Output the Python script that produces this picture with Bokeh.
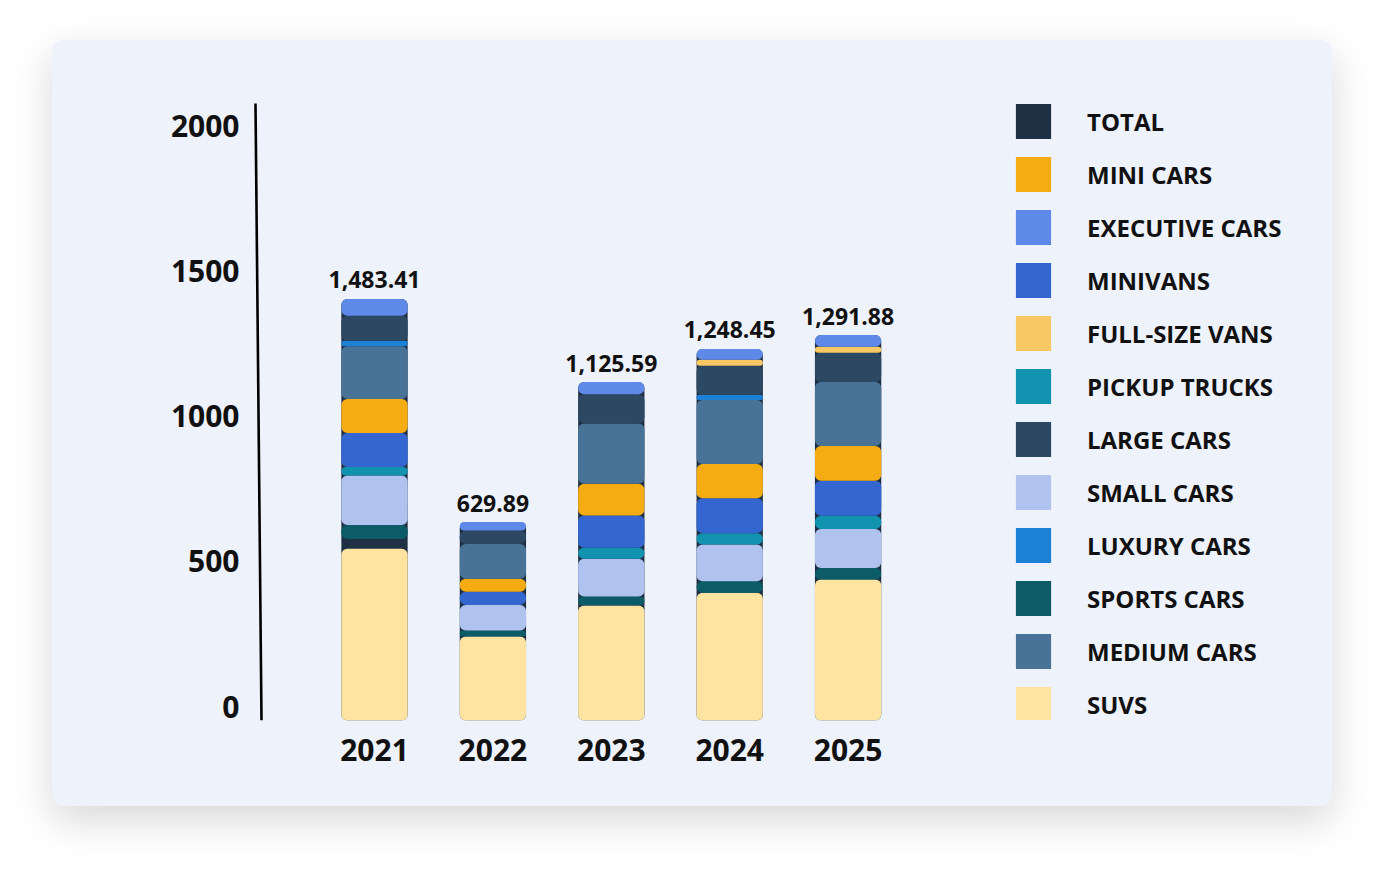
import numpy as np
from bokeh.plotting import figure
from bokeh.models import FixedTicker, Legend, LegendItem, Range1d, LinearAxis
from bokeh.embed import file_html
from bokeh.resources import INLINE
from bokeh.core.properties import value

# ---------------- data ----------------
years = ["2021", "2022", "2023", "2024", "2025"]
totals = [1483.41, 629.89, 1125.59, 1248.45, 1291.88]

suvs = [591, 289, 396, 440, 485]
unlisted = [34, 0, 0, 0, 0]          # dark band in 2021 (total bar shows through)
sports_cars = [48, 21, 31, 39, 40]
small_cars = [170, 88, 130, 127, 134]
pickup_trucks = [30, 0, 38, 39, 46]
minivans = [117, 45, 111, 120, 120]
mini_cars = [117, 45, 109, 118, 120]
medium_cars = [181, 120, 207, 220, 220]
luxury_cars = [19, 0, 0, 18, 0]
large_cars = [86, 46, 101, 100, 101]
full_size_vans = [0, 0, 0, 21, 21]
executive_cars = [58, 29, 42, 37, 40]

y_ticks = [0, 500, 1000, 1500, 2000]

# ---------------- style ----------------
FONT = "Open Sans"
BG = "#EEF2FB"
TXT = "#111111"
colors = {
    "TOTAL": "#1F3045",
    "MINI CARS": "#F4AC12",
    "EXECUTIVE CARS": "#5E89E8",
    "MINIVANS": "#3366D1",
    "FULL-SIZE VANS": "#F8C865",
    "PICKUP TRUCKS": "#1193AF",
    "LARGE CARS": "#2C4863",
    "SMALL CARS": "#AFC3EE",
    "LUXURY CARS": "#1B80D6",
    "SPORTS CARS": "#0B5C66",
    "MEDIUM CARS": "#497396",
    "SUVS": "#FFE3A0",
}
legend_order = ["TOTAL", "MINI CARS", "EXECUTIVE CARS", "MINIVANS", "FULL-SIZE VANS",
                "PICKUP TRUCKS", "LARGE CARS", "SMALL CARS", "LUXURY CARS",
                "SPORTS CARS", "MEDIUM CARS", "SUVS"]

stack = [
    ("SUVS", suvs),
    (None, unlisted),
    ("SPORTS CARS", sports_cars),
    ("SMALL CARS", small_cars),
    ("PICKUP TRUCKS", pickup_trucks),
    ("MINIVANS", minivans),
    ("MINI CARS", mini_cars),
    ("MEDIUM CARS", medium_cars),
    ("LUXURY CARS", luxury_cars),
    ("LARGE CARS", large_cars),
    ("FULL-SIZE VANS", full_size_vans),
    ("EXECUTIVE CARS", executive_cars),
]

# ---------------- geometry ----------------
W, H = 1280, 766
PX_PER_X = 118.4        # px per category step
PX_PER_Y = 0.2905       # px per unit
FRAME_L, FRAME_R, FRAME_T, FRAME_B = 198, 1278, 20, 680   # in figure px
x_start = -(374 - 52 - FRAME_L) / PX_PER_X
x_end = x_start + (FRAME_R - FRAME_L) / PX_PER_X
y_end = (FRAME_B - FRAME_T) / PX_PER_Y
axis_shift = 14 / PX_PER_Y   # the drawn value axis sits slightly above the bar baseline

xs = np.arange(len(years))

p = figure(width=W, height=H, output_backend="svg", toolbar_location=None,
           x_range=Range1d(x_start, x_end), y_range=Range1d(0, y_end),
           y_axis_location=None,
           min_border_left=FRAME_L, min_border_right=W - FRAME_R,
           min_border_top=FRAME_T, min_border_bottom=H - FRAME_B)
p.margin = (40, 0, 0, 52)
p.styles = {"border-radius": "12px", "overflow": "hidden",
            "background-color": BG,
            "box-shadow": "0 14px 40px rgba(0,0,0,0.16)"}
p.background_fill_color = BG
p.border_fill_color = BG
p.outline_line_color = None
p.grid.visible = False

# total bar behind the stack
stack_top = np.zeros(len(years))
for _, vals in stack:
    stack_top = stack_top + np.array(vals, dtype=float)

renderers = {}
renderers["TOTAL"] = p.vbar(x=xs, width=0.56, bottom=0, top=stack_top,
                            fill_color=colors["TOTAL"], line_color=None, border_radius=6)

bottom = np.zeros(len(years))
for name, vals in stack:
    v = np.array(vals, dtype=float)
    if name is None:
        bottom = bottom + v
        continue
    r = p.vbar(x=xs, width=0.56, bottom=bottom, top=bottom + v,
               fill_color=colors[name], line_color=None, border_radius=6)
    renderers[name] = r
    bottom = bottom + v

# total labels
p.text(x=xs, y=stack_top, text=[f"{t:,.2f}" for t in totals],
       text_align="center", text_baseline="middle", y_offset=-19,
       text_font=value(FONT), text_font_style="bold", text_font_size="23px",
       text_color=TXT)

# hand-drawn looking y axis line
p.segment(x0=[x_start + 5 / PX_PER_X], y0=[(FRAME_B - 63) / PX_PER_Y],
          x1=[x_start + 11 / PX_PER_X], y1=[0],
          line_color="#000000", line_width=2.6)

# axes
xa = p.xaxis[0]
xa.ticker = FixedTicker(ticks=list(xs))
xa.major_label_overrides = {int(i): y for i, y in zip(xs, years)}
xa.axis_line_color = None
xa.major_tick_line_color = None
xa.minor_tick_line_color = None
xa.major_tick_out = 0
xa.major_tick_in = 0
xa.major_label_standoff = 18
xa.major_label_text_font = FONT
xa.major_label_text_font_style = "bold"
xa.major_label_text_font_size = "30px"
xa.major_label_text_color = TXT

p.extra_y_ranges = {"axis": Range1d(-axis_shift, y_end - axis_shift)}
ya = LinearAxis(y_range_name="axis", ticker=FixedTicker(ticks=y_ticks))
ya.axis_line_color = None
ya.major_tick_line_color = None
ya.minor_tick_line_color = None
ya.major_tick_out = 0
ya.major_tick_in = 0
ya.major_label_standoff = 11
ya.major_label_text_font = FONT
ya.major_label_text_font_style = "bold"
ya.major_label_text_font_size = "30px"
ya.major_label_text_color = TXT
p.add_layout(ya, "left")

legend = Legend(
    items=[LegendItem(label=n, renderers=[renderers[n]]) for n in legend_order],
    location=(761, -6), orientation="vertical",
    glyph_width=44, glyph_height=44, spacing=9, label_standoff=32,
    label_height=44, padding=0, margin=0,
    border_line_alpha=0, background_fill_alpha=0,
    label_text_font=FONT, label_text_font_style="bold",
    label_text_font_size="24px", label_text_color=TXT,
)
p.add_layout(legend)

open("out.html", "w").write(file_html(p, INLINE))
